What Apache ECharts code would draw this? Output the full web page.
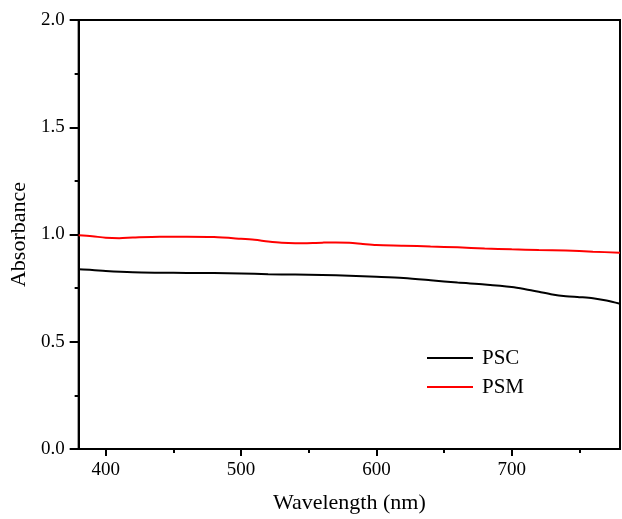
<!DOCTYPE html>
<html><head><meta charset="utf-8">
<script src="https://cdn.jsdelivr.net/npm/echarts@6/dist/echarts.min.js"></script>
<style>html,body{margin:0;padding:0;background:#fff}#c{width:622px;height:519px}</style>
</head><body><div id="c"></div>
<script>
var pscX = [380,390,400,420,440,460,480,500,520,540,560,580,600,620,640,660,680,700,710,720,730,740,750,760,770,780];
var pscY = [0.838,0.835,0.830,0.824,0.822,0.821,0.820,0.818,0.815,0.813,0.811,0.808,0.803,0.797,0.787,0.776,0.767,0.755,0.745,0.733,0.720,0.712,0.708,0.703,0.692,0.677];
var psmX = [380,390,400,410,420,440,460,480,500,510,520,530,540,560,570,580,590,600,620,640,660,680,700,720,740,760,780];
var psmY = [0.997,0.992,0.985,0.983,0.986,0.990,0.990,0.988,0.980,0.975,0.967,0.961,0.959,0.962,0.963,0.962,0.956,0.951,0.948,0.944,0.940,0.935,0.931,0.928,0.925,0.920,0.915];
var xTicks = [400,500,600,700];
var xMinorTicks = [450,550,650,750];
var seriesNames = ['PSC','PSM'];

function pairs(xs, ys){ return xs.map(function(x,i){return [x, ys[i]];}); }
var font = 'Liberation Serif';
var chart = echarts.init(document.getElementById('c'), null, {renderer:'canvas'});
chart.setOption({
  animation:false,
  backgroundColor:'#fff',
  grid:{left:78,right:2,top:20,bottom:63,show:true,borderColor:'#000',borderWidth:2,backgroundColor:'transparent'},
  legend:{
    orient:'vertical', left:422, top:342, icon:'rect', itemWidth:46, itemHeight:2, itemGap:7,
    textStyle:{fontFamily:font,fontSize:21,color:'#000',lineHeight:22,padding:[0,0,0,4]},
    data:seriesNames
  },
  xAxis:[{
    type:'value', min:380, max:780,
    name:'Wavelength (nm)', nameLocation:'middle', nameGap:43,
    nameTextStyle:{fontFamily:font,fontSize:22,color:'#000'},
    axisLine:{show:true,lineStyle:{color:'#000',width:2}},
    axisTick:{show:true,customValues:xTicks,length:7,lineStyle:{color:'#000',width:2}},
    axisLabel:{customValues:xTicks,fontFamily:font,fontSize:19,color:'#000',margin:12},
    splitLine:{show:false}
  },{
    type:'value', min:380, max:780, position:'bottom', offset:0,
    axisLine:{show:false},
    axisTick:{show:true,customValues:xMinorTicks,length:4,lineStyle:{color:'#000',width:2}},
    axisLabel:{show:false,customValues:xMinorTicks},
    splitLine:{show:false}
  }],
  yAxis:{
    type:'value', min:0, max:2, interval:0.5,
    name:'Absorbance', nameLocation:'middle', nameGap:42,
    nameTextStyle:{fontFamily:font,fontSize:22,color:'#000'},
    axisLine:{show:true,lineStyle:{color:'#000',width:2}},
    axisTick:{show:true,length:9,lineStyle:{color:'#000',width:2}},
    minorTick:{show:true,splitNumber:2,length:4,lineStyle:{color:'#000',width:2}},
    axisLabel:{fontFamily:font,fontSize:19,color:'#000',margin:14,formatter:function(v){return v.toFixed(1);}},
    splitLine:{show:false}, minorSplitLine:{show:false}
  },
  series:[
    {name:seriesNames[0],type:'line',data:pairs(pscX,pscY),showSymbol:false,smooth:0.3,color:'#000',lineStyle:{color:'#000',width:2}},
    {name:seriesNames[1],type:'line',data:pairs(psmX,psmY),showSymbol:false,smooth:0.3,color:'#ff0000',lineStyle:{color:'#ff0000',width:2}}
  ]
});
</script></body></html>
